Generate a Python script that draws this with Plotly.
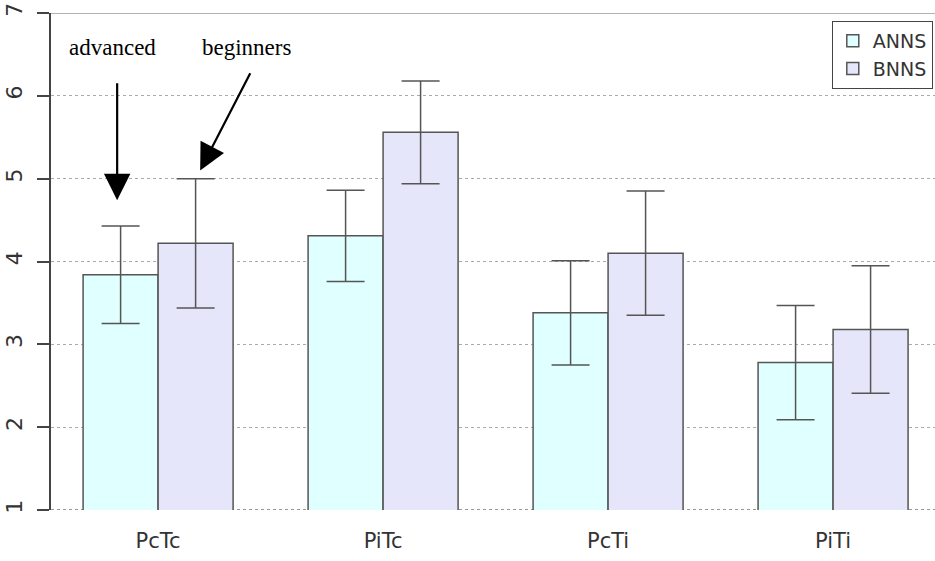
import plotly.graph_objects as go

# Conditions and mean scores for the two groups
conditions = ["PcTc", "PiTc", "PcTi", "PiTi"]
anns_mean = [3.84, 4.31, 3.38, 2.78]
anns_err = [0.59, 0.55, 0.63, 0.69]
bnns_mean = [4.22, 5.56, 4.10, 3.18]
bnns_err = [0.78, 0.62, 0.75, 0.77]
y_ticks = [1, 2, 3, 4, 5, 6, 7]

bar_line = dict(color="#555555", width=1.5)
err_style = dict(type="data", color="#555555", thickness=1.5, width=19)

fig = go.Figure()
fig.add_trace(go.Bar(
    name="ANNS", x=conditions, y=anns_mean,
    marker=dict(color="#E0FFFF", line=bar_line),
    error_y=dict(array=anns_err, **err_style),
))
fig.add_trace(go.Bar(
    name="BNNS", x=conditions, y=bnns_mean,
    marker=dict(color="#E6E6FA", line=bar_line),
    error_y=dict(array=bnns_err, **err_style),
))

# Top border line of the plotting region and the baseline
fig.add_shape(type="line", xref="paper", yref="y", x0=0, x1=1, y0=7, y1=7,
              line=dict(color="#999999", width=1.5), layer="below")
fig.add_shape(type="line", xref="paper", yref="y", x0=0, x1=1, y0=1, y1=1,
              line=dict(color="#777777", width=1.5, dash="dot"), layer="below")

serif = dict(family="Liberation Serif, Times New Roman, serif", size=23, color="black")
fig.add_annotation(x=-0.204, y=6.58, text="advanced", showarrow=False, font=serif)
fig.add_annotation(x=0.391, y=6.58, text="beginners", showarrow=False, font=serif)

arrow = dict(showarrow=True, arrowhead=2, arrowsize=2.4, arrowwidth=2.2,
             arrowcolor="black", axref="x", ayref="y", text="")
fig.add_annotation(x=-0.182, y=4.74, ax=-0.182, ay=6.17, **arrow)
fig.add_annotation(x=0.187, y=5.10, ax=0.413, ay=6.29, **arrow)

fig.update_layout(
    width=935, height=561,
    margin=dict(l=51, r=0, t=13, b=51),
    paper_bgcolor="white", plot_bgcolor="white",
    barmode="group", bargap=1/3, bargroupgap=0,
    font=dict(family="DejaVu Sans, sans-serif", color="#333333"),
    showlegend=True,
    legend=dict(x=0.9975, y=0.984, xanchor="right", yanchor="top",
                bordercolor="#444444", borderwidth=1, bgcolor="white",
                font=dict(size=19, color="#333333"), traceorder="normal",
                itemwidth=30),
    xaxis=dict(type="category", range=[-0.476, 3.453], showgrid=False,
               showline=False, ticks="", tickfont=dict(size=21), ticklabelstandoff=16),
    yaxis=dict(range=[1, 7], tickvals=y_ticks, showgrid=True,
               gridcolor="#aaaaaa", griddash="dot", gridwidth=1,
               showline=True, linecolor="#444444", linewidth=1.5,
               ticks="outside", ticklen=12, tickcolor="#444444", tickwidth=1.5,
               tickangle=-90, tickfont=dict(size=22), ticklabelstandoff=6,
               zeroline=False),
)

fig.write_html("out.html")
